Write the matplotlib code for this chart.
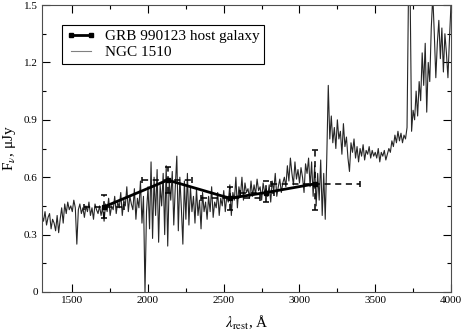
import numpy as np
import matplotlib
matplotlib.use("Agg")
import matplotlib.pyplot as plt
from matplotlib.ticker import MultipleLocator, FixedLocator, FixedFormatter
from matplotlib.lines import Line2D

plt.rcParams['font.family'] = ['Liberation Serif', 'DejaVu Serif']
plt.rcParams['mathtext.fontset'] = 'stix'

#--- NGC 1510 spectrum, 10 A steps from 1300 to 4000
wl_start = 1300
wl_step = 10
ngc_flux = [
    0.40, 0.37, 0.42, 0.35, 0.39, 0.41, 0.33, 0.38, 0.36, 0.32,
    0.40, 0.31, 0.38, 0.44, 0.36, 0.46, 0.41, 0.47, 0.43, 0.45,
    0.42, 0.48, 0.44, 0.25, 0.43, 0.46, 0.41, 0.44, 0.39, 0.45,
    0.42, 0.47, 0.40, 0.44, 0.38, 0.46, 0.43, 0.41, 0.45, 0.40,
    0.44, 0.37, 0.46, 0.42, 0.49, 0.40, 0.45, 0.43, 0.50, 0.41,
    0.47, 0.44, 0.52, 0.40, 0.48, 0.45, 0.55, 0.42, 0.50, 0.46,
    0.43, 0.54, 0.38, 0.49, 0.44, 0.58, 0.36, 0.50, 0.00, 0.42,
    0.55, 0.33, 0.68, 0.28, 0.60, 0.40, 0.64, 0.26, 0.56, 0.45,
    0.62, 0.30, 0.66, 0.24, 0.58, 0.48, 0.63, 0.35, 0.55, 0.71,
    0.32, 0.60, 0.44, 0.25, 0.58, 0.38, 0.62, 0.35, 0.55, 0.42,
    0.50, 0.36, 0.54, 0.40, 0.48, 0.33, 0.52, 0.42, 0.47, 0.38,
    0.50, 0.42, 0.55, 0.39, 0.47, 0.44, 0.52, 0.40, 0.49, 0.45,
    0.53, 0.42, 0.50, 0.47, 0.56, 0.40, 0.52, 0.48, 0.60, 0.44,
    0.55, 0.50, 0.60, 0.48, 0.57, 0.52, 0.54, 0.49, 0.58, 0.50,
    0.56, 0.51, 0.59, 0.53, 0.55, 0.48, 0.57, 0.52, 0.54, 0.50,
    0.56, 0.47, 0.58, 0.53, 0.62, 0.50, 0.55, 0.59, 0.52, 0.57,
    0.60, 0.55, 0.66, 0.58, 0.70, 0.62, 0.56, 0.68, 0.59, 0.64,
    0.57, 0.65, 0.60, 0.52, 0.67, 0.62, 0.70, 0.55, 0.68, 0.50,
    0.66, 0.45, 0.62, 0.48, 0.69, 0.40, 0.62, 0.38, 0.70, 1.08,
    0.80, 0.92, 0.78, 0.86, 0.75, 0.90, 0.80, 0.84, 0.72, 0.88,
    0.76, 0.81, 0.70, 0.63, 0.78, 0.73, 0.80, 0.70, 0.76, 0.68,
    0.75, 0.71, 0.77, 0.69, 0.74, 0.72, 0.76, 0.70, 0.74, 0.71,
    0.73, 0.70, 0.75, 0.68, 0.73, 0.71, 0.74, 0.69, 0.72, 0.75,
    0.73, 0.79, 0.76, 0.82, 0.78, 0.84, 0.79, 0.83, 0.78, 0.82,
    0.80, 0.86, 1.60, 1.60, 0.84, 0.95, 0.90, 1.05, 0.92, 1.10,
    1.00, 1.25, 1.08, 1.30, 0.94, 1.20, 1.10, 1.38, 1.55, 1.35,
    1.12, 1.30, 1.42, 1.22, 1.38, 1.15, 1.35, 1.25, 1.12, 1.32,
    1.50,
]
ngc_wl = wl_start + wl_step * np.arange(len(ngc_flux))

#--- GRB 990123 host galaxy photometry
grb_wl   = [1710, 2130, 2540, 2780, 3100]
grb_flux = [0.445, 0.585, 0.49, 0.52, 0.565]
grb_xlo  = [130, 170, 190, 170, 290]
grb_xhi  = [130, 160, 200, 50, 300]
grb_ylo  = [0.06, 0.07, 0.06, 0.05, 0.135]
grb_yhi  = [0.06, 0.07, 0.06, 0.06, 0.175]

xticks  = [1500, 2000, 2500, 3000, 3500, 4000]
yticks  = [0, 0.3, 0.6, 0.9, 1.2, 1.5]
ylabels = ['0', '0.3', '0.6', '0.9', '1.2', '1.5']

fig = plt.figure(figsize=(4.63, 3.36), dpi=100)
ax = fig.add_axes([0.0907, 0.131, 0.8833, 0.854])

ax.plot(ngc_wl, ngc_flux, color='0.15', lw=0.8)

eb = ax.errorbar(grb_wl, grb_flux,
                 xerr=[grb_xlo, grb_xhi], yerr=[grb_ylo, grb_yhi],
                 color='black', lw=2, marker='s', ms=3,
                 elinewidth=1.1, capsize=2.5, capthick=1.1)
for coll in eb[2]:
    coll.set_linestyle((0, (4, 3)))

ax.set_xlim(1300, 4000)
ax.set_ylim(0, 1.5)
ax.xaxis.set_major_locator(FixedLocator(xticks))
ax.xaxis.set_minor_locator(MultipleLocator(250))
ax.yaxis.set_major_locator(FixedLocator(yticks))
ax.yaxis.set_major_formatter(FixedFormatter(ylabels))
ax.yaxis.set_minor_locator(MultipleLocator(0.15))
ax.tick_params(which='both', direction='in', top=True, right=True,
               labelsize=8, width=0.8)
ax.tick_params(which='major', length=6, pad=3)
ax.tick_params(which='minor', length=3)
for sp in ax.spines.values():
    sp.set_linewidth(0.8)
    sp.set_color('0.3')

ax.set_xlabel(r'$\lambda_{\rm rest}$, Å', fontsize=11, labelpad=6)
ax.set_ylabel(r'F$_\nu$, μJy', fontsize=11, labelpad=4)

#--- legend with plain line handles
h_grb = Line2D([], [], color='black', lw=2, marker='s', ms=3)
h_ngc = Line2D([], [], color='0.5', lw=0.8)
leg = ax.legend([h_grb, h_ngc], ['GRB 990123 host galaxy', 'NGC 1510'],
                loc='upper left', bbox_to_anchor=(0.049, 0.93), numpoints=2,
                borderaxespad=0, fancybox=False, framealpha=1, fontsize=11,
                handlelength=1.9, handletextpad=0.6, borderpad=0.3,
                labelspacing=0.15)
leg.get_frame().set_edgecolor('black')
leg.get_frame().set_linewidth(0.8)

fig.savefig('out.png', dpi=100)
